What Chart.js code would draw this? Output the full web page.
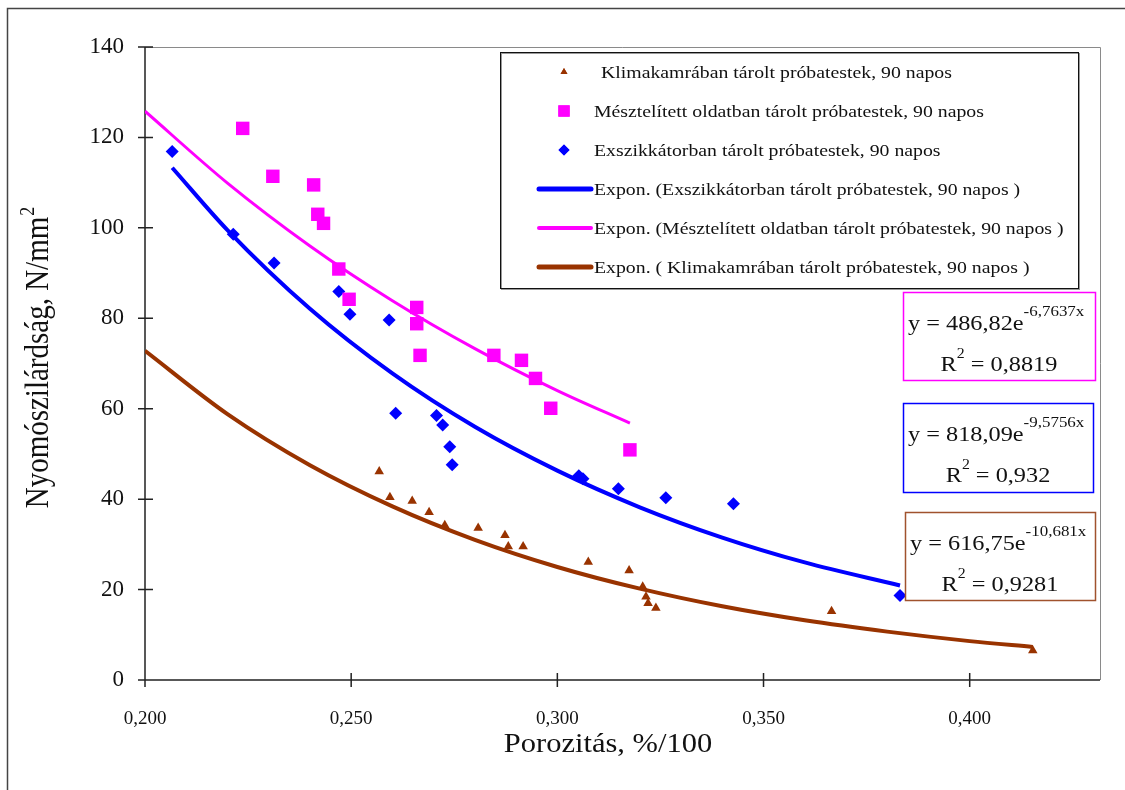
<!DOCTYPE html>
<html lang="hu">
<head>
<meta charset="utf-8">
<script src="https://cdn.jsdelivr.net/npm/chart.js@4.4.1/dist/chart.umd.min.js"></script>
<style>
  body { margin: 0; background: #fff; }
</style>
</head>
<body>
<canvas id="porozitas-chart" width="1125" height="790"></canvas>

<script>
    // measured points (x = porosity %/100, y = N/mm2)
    const xKlima = [0.2568, 0.2594, 0.2648, 0.2689, 0.2727, 0.2808, 0.2873, 0.2881, 0.2917, 0.3075, 0.3174, 0.3207, 0.3215, 0.3220, 0.3239, 0.3665, 0.4153];
    const yKlima = [46.1, 40.4, 39.6, 37.1, 34.2, 33.6, 32.0, 29.5, 29.5, 26.1, 24.2, 20.6, 18.4, 17.0, 15.9, 15.2, 6.5];

    const xMeszt = [0.2237, 0.2310, 0.2409, 0.2419, 0.2433, 0.2470, 0.2495, 0.2659, 0.2659, 0.2667, 0.2846, 0.2913, 0.2947, 0.2984, 0.3176];
    const yMeszt = [122.0, 111.4, 109.5, 103.0, 101.0, 90.9, 84.2, 82.4, 78.8, 71.8, 71.8, 70.7, 66.7, 60.1, 50.9];

    const xExsz = [0.2066, 0.2214, 0.2313, 0.2470, 0.2497, 0.2592, 0.2608, 0.2707, 0.2722, 0.2739, 0.2745, 0.3052, 0.3062, 0.3148, 0.3263, 0.3427, 0.3831];
    const yExsz = [116.9, 98.6, 92.2, 85.9, 80.9, 79.6, 59.0, 58.5, 56.4, 51.6, 47.6, 45.2, 44.5, 42.3, 40.3, 39.0, 18.7];

    // trendlines
    const xFitExsz = [0.2066, 0.22, 0.24, 0.26, 0.28, 0.30, 0.32, 0.34, 0.36, 0.3831];
    const yFitExsz = [113.3, 99.5, 82.1, 67.8, 56.0, 46.3, 38.2, 31.5, 26.0, 20.9];

    const xFitMeszt = [0.200, 0.22, 0.24, 0.26, 0.28, 0.30, 0.3176];
    const yFitMeszt = [125.8, 109.9, 96.0, 83.9, 73.3, 64.0, 56.8];

    const xFitKlima = [0.200, 0.22, 0.24, 0.26, 0.28, 0.30, 0.32, 0.34, 0.36, 0.38, 0.40, 0.4153];
    const yFitKlima = [72.8, 58.8, 47.5, 38.4, 31.0, 25.0, 20.2, 16.3, 13.2, 10.7, 8.6, 7.3];

    const yTicks = [0, 20, 40, 60, 80, 100, 120, 140];
    const xTicks = [0.20, 0.25, 0.30, 0.35, 0.40];

    const equations = [
        {eq: "y = 486,82e", exp: "-6,7637x", r2: " = 0,8819", color: "#ff00ff", box: [903, 292, 192, 88]},
        {eq: "y = 818,09e", exp: "-9,5756x", r2: " = 0,932", color: "#0000ff", box: [903, 403, 190, 89]},
        {eq: "y = 616,75e", exp: "-10,681x", r2: " = 0,9281", color: "#a0522d", box: [905, 512, 190, 88]}
    ];

    const SERIF = "'Liberation Serif', 'Times New Roman', serif";
    const BROWN = "#993300";
    const SX = 1.13; // the original text is a little wider than Times

    const pts = (xs, ys) => xs.map((x, i) => ({x: x, y: ys[i]}));

    const datasets = [
        {label: "Klimakamrában tárolt próbatestek, 90 napos", data: pts(xKlima, yKlima),
            pointStyle: "triangle", pointRadius: 5.5, backgroundColor: BROWN, borderColor: BROWN, borderWidth: 0, showLine: false, order: 0},
        {label: "Mésztelített oldatban tárolt próbatestek, 90 napos", data: pts(xMeszt, yMeszt),
            pointStyle: "rect", pointRadius: 9.5, backgroundColor: "#ff00ff", borderColor: "#ff00ff", borderWidth: 0, showLine: false, order: 0},
        {label: "Exszikkátorban tárolt próbatestek, 90 napos", data: pts(xExsz, yExsz),
            pointStyle: "rectRot", pointRadius: 6.5, backgroundColor: "#0000ff", borderColor: "#0000ff", borderWidth: 0, showLine: false, order: 0},
        {label: "Expon. (Exszikkátorban tárolt próbatestek, 90 napos )", data: pts(xFitExsz, yFitExsz),
            showLine: true, pointRadius: 0, borderColor: "#0000ff", borderWidth: 4, cubicInterpolationMode: "monotone", order: 1},
        {label: "Expon. (Mésztelített oldatban tárolt próbatestek, 90 napos )", data: pts(xFitMeszt, yFitMeszt),
            showLine: true, pointRadius: 0, borderColor: "#ff00ff", borderWidth: 3, cubicInterpolationMode: "monotone", order: 1},
        {label: "Expon. ( Klimakamrában tárolt próbatestek, 90 napos )", data: pts(xFitKlima, yFitKlima),
            showLine: true, pointRadius: 0, borderColor: BROWN, borderWidth: 4, cubicInterpolationMode: "monotone", order: 1}
    ];

    function drawMarker(ctx, ds, x, y, r) {
        Chart.helpers.drawPoint(ctx, {pointStyle: ds.pointStyle, radius: r, rotation: 0, borderWidth: 0}, x, y);
        ctx.fill();
    }

    // text drawn with a slight horizontal stretch
    function sText(ctx, str, x, y) {
        ctx.save();
        ctx.translate(x, y);
        ctx.scale(SX, 1);
        ctx.fillText(str, 0, 0);
        ctx.restore();
    }
    const sWidth = (ctx, str) => ctx.measureText(str).width * SX;

    const decor = {
        id: "decor",
        beforeDraw(chart) {
            const ctx = chart.ctx;
            ctx.save();
            ctx.fillStyle = "#fff";
            ctx.fillRect(0, 0, chart.width, chart.height);
            // outer frame (left and top only are visible)
            ctx.strokeStyle = "#444";
            ctx.lineWidth = 1.5;
            ctx.beginPath();
            ctx.moveTo(7.5, 790);
            ctx.lineTo(7.5, 8.5);
            ctx.lineTo(1125, 8.5);
            ctx.stroke();
            ctx.restore();
        },
        beforeDatasetsDraw(chart) {
            const ctx = chart.ctx, a = chart.chartArea;
            const xs = chart.scales.x, ys = chart.scales.y;
            ctx.save();
            // plot area border on top and right
            ctx.strokeStyle = "#8a8a8a";
            ctx.lineWidth = 1;
            ctx.beginPath();
            ctx.moveTo(a.left, a.top + 0.5);
            ctx.lineTo(a.right + 0.5, a.top + 0.5);
            ctx.lineTo(a.right + 0.5, a.bottom);
            ctx.stroke();
            // axes with crossing tick marks
            ctx.strokeStyle = "#222";
            ctx.lineWidth = 1.5;
            ctx.beginPath();
            ctx.moveTo(a.left, a.top);
            ctx.lineTo(a.left, a.bottom);
            ctx.lineTo(a.right, a.bottom);
            yTicks.forEach(v => {
                const py = ys.getPixelForValue(v);
                ctx.moveTo(a.left - 7, py);
                ctx.lineTo(a.left + 8, py);
            });
            xTicks.forEach(v => {
                const px = xs.getPixelForValue(v);
                ctx.moveTo(px, a.bottom - 7);
                ctx.lineTo(px, a.bottom + 7);
            });
            ctx.stroke();
            ctx.restore();
        },
        afterDraw(chart) {
            const ctx = chart.ctx;
            ctx.save();
            ctx.fillStyle = "#111";

            // x axis title
            ctx.textAlign = "left";
            ctx.textBaseline = "middle";
            ctx.font = "27px " + SERIF;
            const xTitle = "Porozitás, %/100";
            sText(ctx, xTitle, 608 - sWidth(ctx, xTitle) / 2, 745);

            // y axis title
            ctx.translate(39, 358);
            ctx.rotate(-Math.PI / 2);
            ctx.scale(1, SX);
            const yTitle = "Nyomószilárdság, N/mm";
            ctx.font = "29px " + SERIF;
            const w1 = ctx.measureText(yTitle).width;
            ctx.font = "18px " + SERIF;
            const w2 = ctx.measureText("2").width;
            ctx.font = "29px " + SERIF;
            ctx.fillText(yTitle, -(w1 + w2) / 2, 0);
            ctx.font = "18px " + SERIF;
            ctx.fillText("2", -(w1 + w2) / 2 + w1 + 1, -9);
            ctx.setTransform(1, 0, 0, 1, 0, 0);

            // legend box
            const lx = 500, ly = 52, lw = 578, lh = 236;
            ctx.fillStyle = "#fff";
            ctx.fillRect(lx, ly, lw, lh);
            ctx.strokeStyle = "#999";
            ctx.lineWidth = 1;
            ctx.strokeRect(lx + 1.5, ly + 1.5, lw, lh);
            ctx.strokeStyle = "#111";
            ctx.strokeRect(lx + 0.5, ly + 0.5, lw, lh);

            const rowY = [72, 111, 150, 189, 228, 267];
            ctx.font = "17.5px " + SERIF;
            ctx.textAlign = "left";
            ctx.textBaseline = "middle";
            datasets.forEach((ds, i) => {
                const y = rowY[i];
                if (ds.showLine) {
                    ctx.strokeStyle = ds.borderColor;
                    ctx.lineWidth = ds.borderWidth + 1;
                    ctx.lineCap = "round";
                    ctx.beginPath();
                    ctx.moveTo(539, y);
                    ctx.lineTo(591, y);
                    ctx.stroke();
                } else {
                    ctx.fillStyle = ds.backgroundColor;
                    const r = ds.pointStyle === "triangle" ? 4 : (ds.pointStyle === "rect" ? 8 : 5.5);
                    drawMarker(ctx, ds, 564, y, r);
                }
                ctx.fillStyle = "#111";
                sText(ctx, ds.label, i === 0 ? 601 : 594, y + 1);
            });

            // trendline equation boxes
            equations.forEach(e => {
                const [bx, by, bw, bh] = e.box;
                ctx.fillStyle = "#fff";
                ctx.fillRect(bx, by, bw, bh);
                ctx.strokeStyle = e.color;
                ctx.lineWidth = 1.5;
                ctx.strokeRect(bx + 0.5, by + 0.5, bw, bh);
                ctx.fillStyle = "#111";
                ctx.textBaseline = "alphabetic";
                ctx.textAlign = "left";
                ctx.font = "21.5px " + SERIF;
                const eqW = sWidth(ctx, e.eq);
                sText(ctx, e.eq, bx + 5, by + 38);
                ctx.font = "15px " + SERIF;
                sText(ctx, e.exp, bx + 5 + eqW, by + 24);
                // R^2 line, centred
                ctx.font = "21.5px " + SERIF;
                const rW = sWidth(ctx, "R");
                const tW = sWidth(ctx, e.r2);
                ctx.font = "14px " + SERIF;
                const supW = sWidth(ctx, "2");
                const sx = bx + (bw - rW - supW - tW) / 2;
                ctx.font = "21.5px " + SERIF;
                sText(ctx, "R", sx, by + 79);
                sText(ctx, e.r2, sx + rW + supW, by + 79);
                ctx.font = "14px " + SERIF;
                sText(ctx, "2", sx + rW, by + 66);
            });
            ctx.restore();
        }
    };

    new Chart("porozitas-chart", {
        type: "scatter",
        data: {datasets: datasets},
        options: {
            responsive: false,
            animation: false,
            layout: {padding: {top: 47, right: 25, left: 0, bottom: 0}},
            plugins: {legend: {display: false}, tooltip: {enabled: false}},
            scales: {
                x: {
                    type: "linear",
                    min: 0.2,
                    max: 0.4316,
                    grid: {display: false, drawTicks: false},
                    border: {display: false},
                    ticks: {
                        stepSize: 0.05,
                        includeBounds: false,
                        padding: 28,
                        color: "#111",
                        font: {family: SERIF, size: 19},
                        callback: v => v.toFixed(3).replace(".", ",")
                    },
                    afterFit: s => { s.height = 110; }
                },
                y: {
                    min: 0,
                    max: 140,
                    grid: {display: false, drawTicks: false},
                    border: {display: false},
                    ticks: {
                        stepSize: 20,
                        padding: 21,
                        color: "#111",
                        font: {family: SERIF, size: 23},
                        callback: v => String(v)
                    },
                    afterFit: s => { s.width = 145; }
                }
            }
        },
        plugins: [decor]
    });
</script>
</body>
</html>
